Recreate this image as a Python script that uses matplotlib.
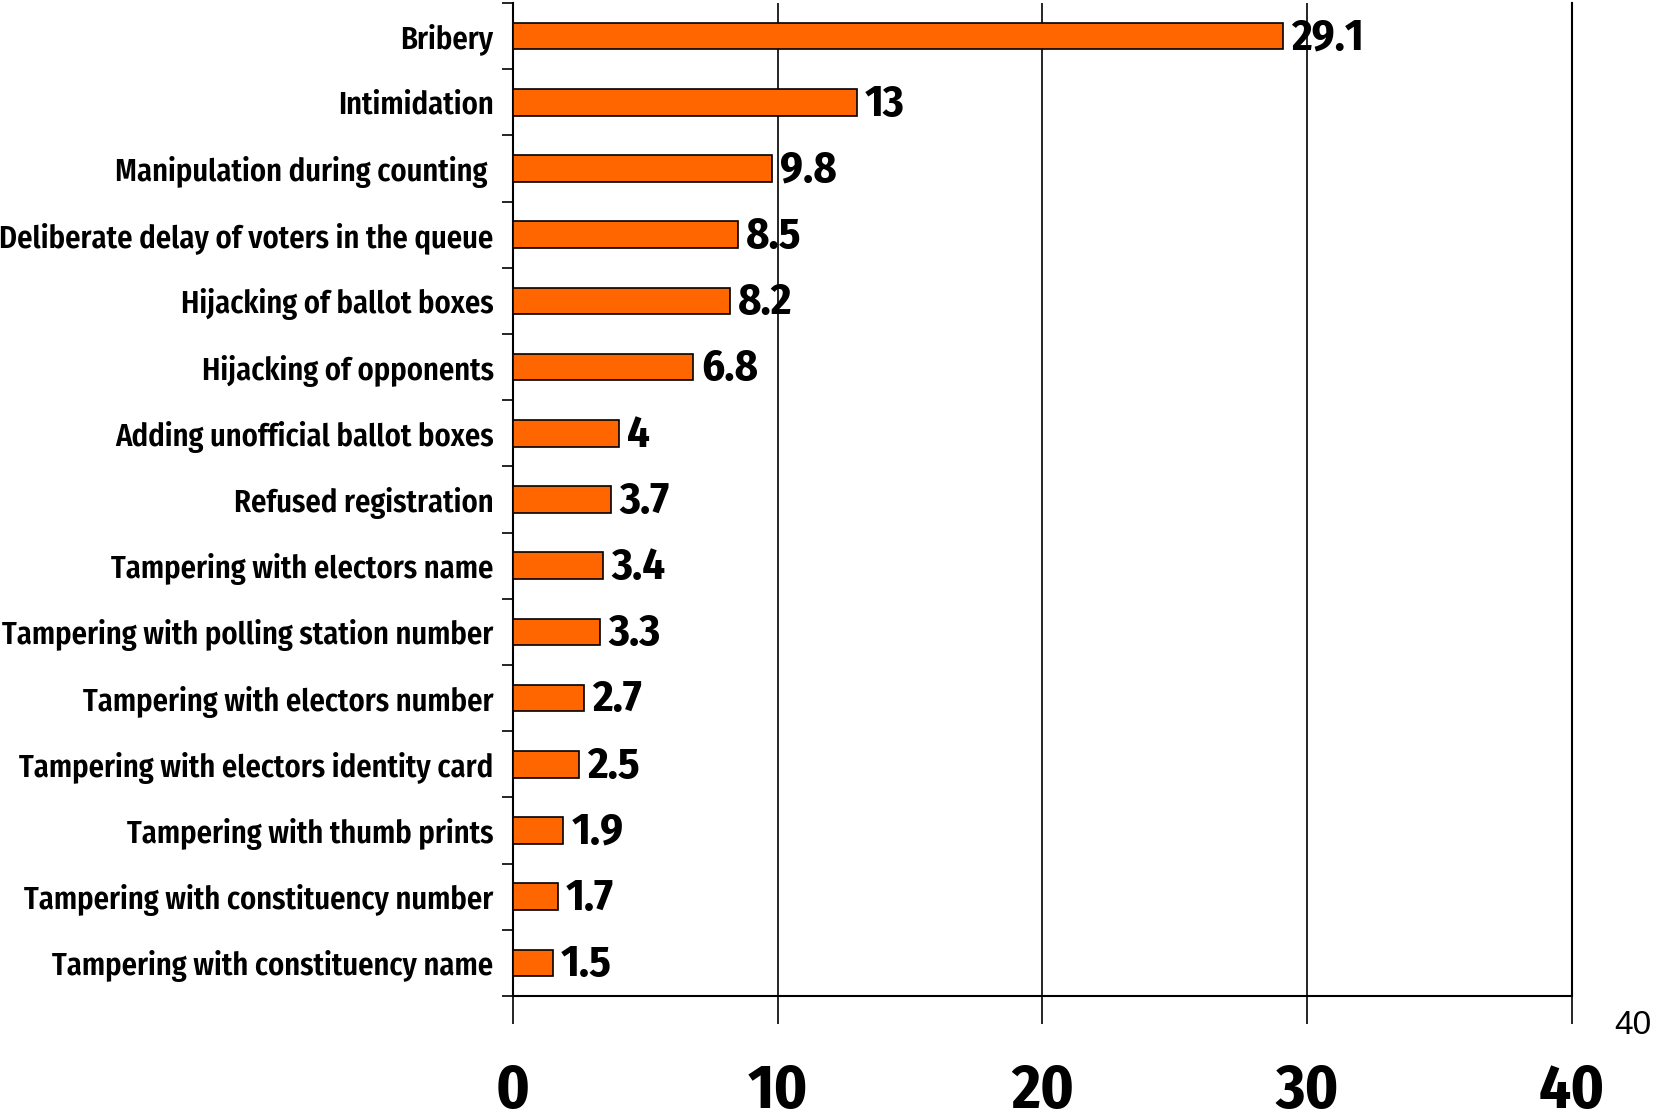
import numpy as np
import matplotlib.pyplot as plt

# data
categories = ["Bribery", "Intimidation", "Manipulation during counting ",
              "Deliberate delay of voters in the queue", "Hijacking of ballot boxes",
              "Hijacking of opponents", "Adding unofficial ballot boxes",
              "Refused registration", "Tampering with electors name",
              "Tampering with polling station number", "Tampering with electors number",
              "Tampering with electors identity card", "Tampering with thumb prints",
              "Tampering with constituency number", "Tampering with constituency name"]
values = [29.1, 13, 9.8, 8.5, 8.2, 6.8, 4, 3.7, 3.4, 3.3, 2.7, 2.5, 1.9, 1.7, 1.5]
value_labels = ["29.1", "13", "9.8", "8.5", "8.2", "6.8", "4", "3.7", "3.4",
                "3.3", "2.7", "2.5", "1.9", "1.7", "1.5"]
xticks = [0, 10, 20, 30, 40]

# condensed bold face, close to Arial Narrow Bold
narrow = ['Fira Sans Condensed', 'Liberation Sans', 'DejaVu Sans']

fig = plt.figure(figsize=(16.58, 11.2), dpi=100)
ax = fig.add_axes([0.3094, 0.1107, 0.6387, 0.8866])

y = np.arange(len(categories))
ax.barh(y, values, height=0.4, color='#FF6600', edgecolor='black', linewidth=1.2, zorder=3)

ax.set_xlim(0, 40)
ax.set_ylim(len(categories) - 0.5, -0.5)

# vertical gridlines
ax.set_xticks(xticks)
ax.xaxis.grid(True, color='black', linewidth=1.2)
ax.set_axisbelow(True)

ax.spines['top'].set_visible(False)
for s in ['left', 'bottom', 'right']:
    ax.spines[s].set_linewidth(1.5)

ax.set_xticklabels([str(t) for t in xticks], family=narrow, fontweight='bold', fontsize=45)
ax.tick_params(axis='x', length=20, width=1.2, pad=27)

ax.set_yticks(y)
ax.set_yticklabels(categories, family=narrow, fontweight=600, fontsize=22)
ax.tick_params(axis='y', length=0, pad=14)
ax.set_yticks(np.arange(-0.5, len(categories)), minor=True)
ax.tick_params(axis='y', which='minor', length=8, width=1.2)

for yi, v, lab in zip(y, values, value_labels):
    ax.text(v + 0.3, yi + 0.03, lab, va='center', ha='left', family=narrow,
            fontweight='bold', fontsize=32, zorder=4)

fig.text(1633 / 1658, 1 - 1026 / 1120, "40", ha='center', va='center', fontsize=24,
         family=['Liberation Sans', 'DejaVu Sans'])

fig.savefig('out.png', dpi=100)
